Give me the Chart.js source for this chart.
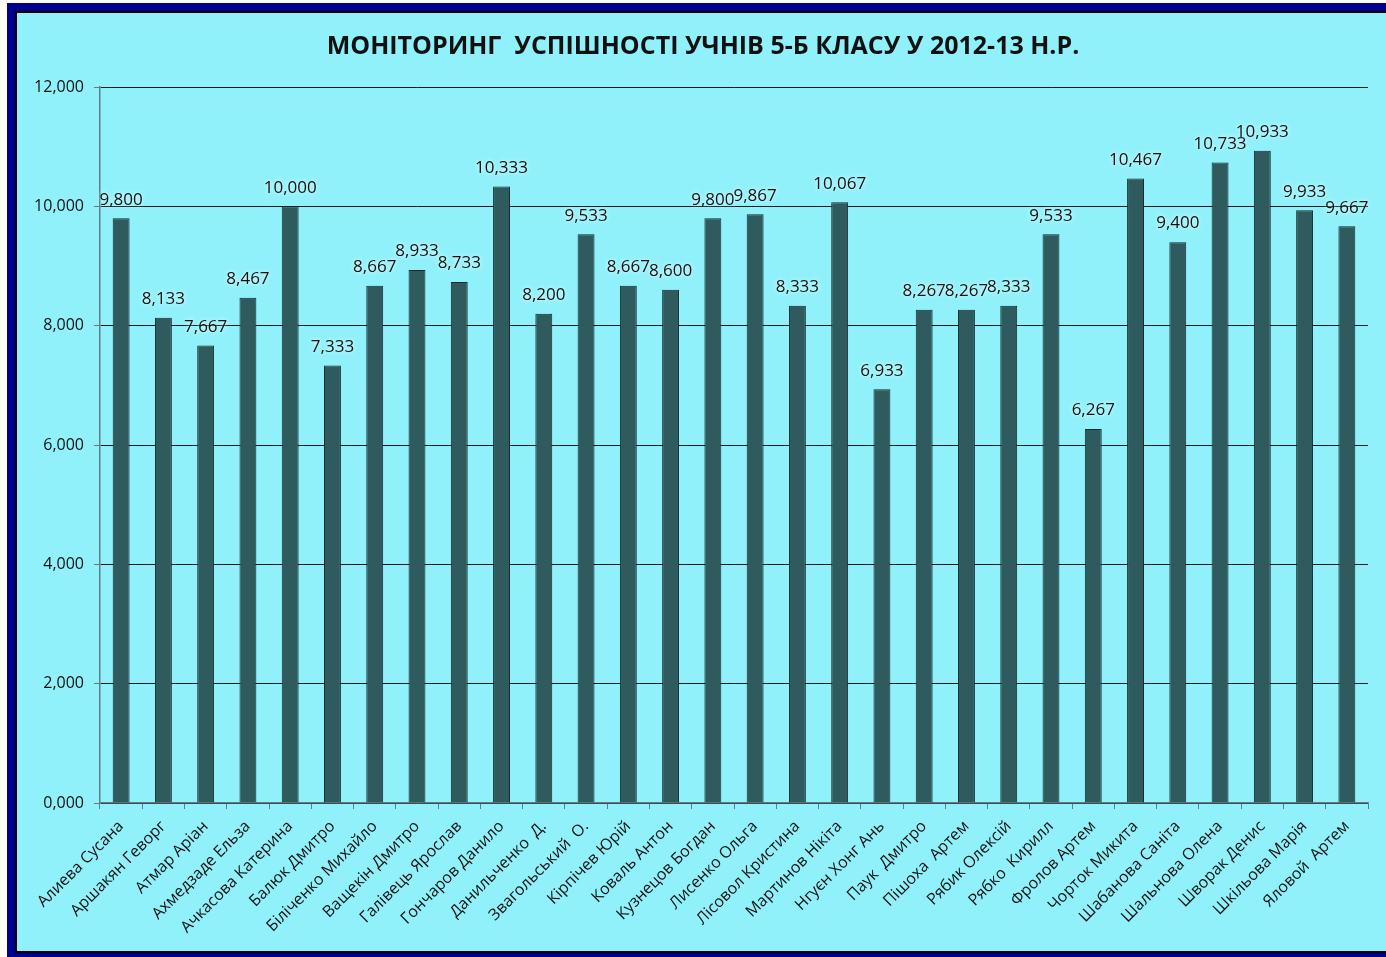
<!DOCTYPE html>
<html><head><meta charset="utf-8">
<script src="https://cdn.jsdelivr.net/npm/chart.js@4.4.1/dist/chart.umd.min.js"></script>
<style>
html,body{margin:0;padding:0;background:#fdfdf5;width:1386px;height:957px;overflow:hidden;}
#frame{position:absolute;left:7px;top:3px;width:1379px;height:954px;background:#00008f;}
#inner{position:absolute;left:8px;top:8px;right:0;bottom:4px;background:#000;}
#panel{position:absolute;left:2px;top:2px;right:0;bottom:2px;background:#90f1fa;}
canvas{position:absolute;left:0;top:0;}
</style></head>
<body>
<div id="frame"><div id="inner"><div id="panel"></div></div></div>
<canvas id="c" width="1386" height="957"></canvas>
<script>
const categories = ["Алиева Сусана","Аршакян Геворг","Атмар Аріан","Ахмедзаде Ельза","Ачкасова Катерина","Балюк Дмитро","Біліченко Михайло","Ващекін Дмитро","Галівець Ярослав","Гончаров Данило","Данильченко  Д.","Звагольський  О.","Кірпічев Юрій","Коваль Антон","Кузнецов Богдан","Лисенко Ольга","Лісовол Кристина","Мартинов Нікіта","Нгуєн Хонг Ань","Паук  Дмитро","Пішоха  Артем","Рябик Олексій","Рябко  Кирилл","Фролов Артем","Чорток Микита","Шабанова Саніта","Шальнова Олена","Шворак Денис","Шкільова Марія","Яловой  Артем"];
const scores = [9.800,8.133,7.667,8.467,10.000,7.333,8.667,8.933,8.733,10.333,8.200,9.533,8.667,8.600,9.800,9.867,8.333,10.067,6.933,8.267,8.267,8.333,9.533,6.267,10.467,9.400,10.733,10.933,9.933,9.667];
const yTicks = [0,2,4,6,8,10,12];
const titleText = "МОНІТОРИНГ  УСПІШНОСТІ УЧНІВ 5-Б КЛАСУ У 2012-13 Н.Р.";

const fmt = v => v.toFixed(3).replace('.', ',');
const FONT = "'Open Sans', 'DejaVu Sans', sans-serif";

const labelPlugin = {
  id: 'valueLabels',
  beforeDraw(chart) {
    // widen the y-axis label clip box to the canvas edge
    if (chart.scales.y) chart.scales.y.left = 0;
  },
  afterDatasetsDraw(chart) {
    const ctx = chart.ctx;
    const meta = chart.getDatasetMeta(0);
    ctx.save();
    ctx.font = "17px " + FONT;
    ctx.textAlign = 'center';
    ctx.textBaseline = 'bottom';
    ctx.fillStyle = '#111';
    ctx.shadowColor = 'rgba(255,255,255,0.95)';
    ctx.shadowBlur = 4;
    meta.data.forEach((bar, i) => {
      ctx.fillText(fmt(scores[i]), bar.x, bar.y - 10);
    });
    ctx.restore();
  }
};

new Chart(document.getElementById('c'), {
  type: 'bar',
  data: {
    labels: categories,
    datasets: [{
      data: scores,
      backgroundColor: '#2f5a5e',
      borderColor: '#142c2e',
      borderWidth: 1,
      barPercentage: 0.8,
      categoryPercentage: 0.5
    }]
  },
  options: {
    responsive: false,
    animation: false,
    layout: { padding: { left: 38, right: 18, top: 0, bottom: 0 } },
    plugins: {
      legend: { display: false },
      tooltip: { enabled: false },
      title: {
        display: true,
        text: titleText,
        color: '#111',
        font: { family: FONT, size: 25, weight: 'bold', lineHeight: 1.2 },
        padding: { top: 32, bottom: 25 }
      }
    },
    scales: {
      x: {
        grid: { display: true, drawOnChartArea: false, drawTicks: true, tickLength: 6, color: '#5f7f84', offset: true },
        border: { display: true, color: '#5f7f84', width: 1.5 },
        ticks: { color: '#111', font: { family: FONT, size: 16 }, minRotation: 45, maxRotation: 45, autoSkip: false, padding: 8 },
        afterFit(scale) { scale.height = 957 - 803; }
      },
      y: {
        min: 0, max: 12,
        afterBuildTicks(scale) { scale.ticks = yTicks.map(v => ({ value: v })); },
        grid: { color: '#1a1a1a', lineWidth: 1, drawTicks: true, tickLength: 6, tickColor: '#5f7f84' },
        border: { display: true, color: '#5f7f84', width: 1.5 },
        ticks: { color: '#111', font: { family: FONT, size: 16 }, padding: 10, callback: v => fmt(v) },
        afterFit(scale) { scale.width = 62; }
      }
    }
  },
  plugins: [labelPlugin]
});
</script>
</body></html>
